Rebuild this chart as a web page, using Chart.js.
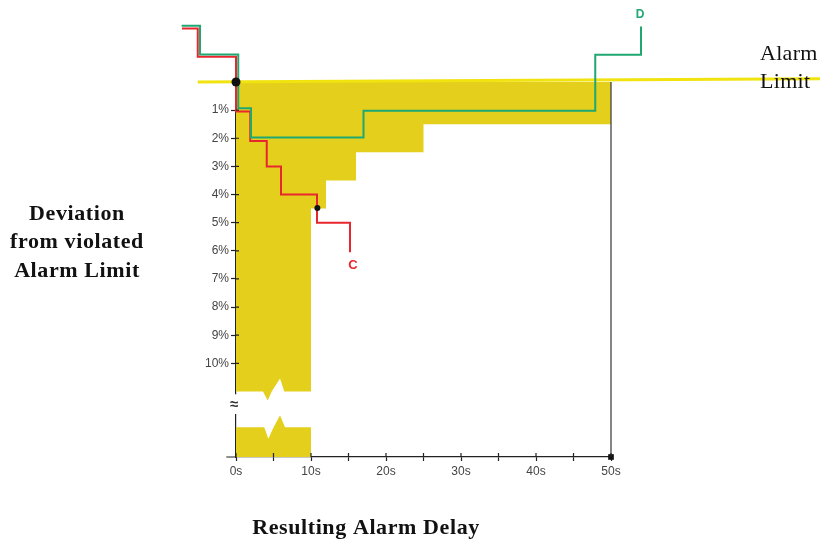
<!DOCTYPE html>
<html><head><meta charset="utf-8">
<script src="https://cdn.jsdelivr.net/npm/chart.js@4/dist/chart.umd.min.js"></script>
<style>html,body{margin:0;padding:0;background:#fff}#wrap{width:820px;height:541px;position:relative}</style>
</head><body><div id="wrap"><canvas id="c" width="820" height="541"></canvas></div>
<script>
// ---- data ----
const xTickValues = [0, 5, 10, 15, 20, 25, 30, 35, 40, 45, 50];
const xTickLabels = ['0s', '', '10s', '', '20s', '', '30s', '', '40s', '', '50s'];
const yTickValues = [1, 2, 3, 4, 5, 6, 7, 8, 9, 10];
const yTickLabels = ['1%', '2%', '3%', '4%', '5%', '6%', '7%', '8%', '9%', '10%'];

// series C (red): seconds / % deviation, step points
const seriesC_x = [-7.2, -5.1, 0, 1.9, 4.1, 6.0, 10.8, 15.2];
const seriesC_y = [-1.9, -0.9, 1.05, 2.1, 3.0, 4.0, 5.0, 6.05];
// series D (green)
const seriesD_x = [-7.25, -4.8, 0.3, 2.0, 17.0, 47.9, 54.0];
const seriesD_y = [-2.0, -0.98, 0.93, 1.97, 1.02, -0.97, -1.97];
// alarm-delay zone (upper part, above the axis break)
const zoneX = [0, 50, 50, 25, 25, 16, 16, 12, 12, 10, 10, 6.44, 5.87, 4.76, 4.23, 3.6, 0];
const zoneY = [0, 0, 1.5, 1.5, 2.5, 2.5, 3.5, 3.5, 4.5, 4.5, 11.0, 11.0, 10.54, 11.0, 11.32, 11.0, 11.0];
// alarm-delay zone (lower part, below the axis break)
const zoneLowX = [0, 3.77, 4.31, 4.97, 5.87, 6.53, 10, 10, 0];
const zoneLowY = [12.27, 12.27, 12.68, 12.3, 11.85, 12.27, 12.27, 13.33, 13.33];
// alarm limit line
const limitX = [-5.1, 78];
const limitY = [0, -0.12];
// max delay line
const maxDelayX = [50, 50];
const maxDelayY = [0, 13.33];
// markers
const markerX = [0, 10.85, 50];
const markerY = [0, 4.48, 13.33];

const X_MIN = 0, X_MAX = 50, Y_MIN = 0, Y_MAX = 13.33;

const pts = (xs, ys) => xs.map((x, i) => ({x: x, y: ys[i]}));

const overlay = {
  id: 'overlay',
  afterDraw(chart) {
    const ctx = chart.ctx;
    const xs = chart.scales.x, ys = chart.scales.y;
    const x0 = xs.getPixelForValue(0);
    const yb = ys.getPixelForValue(Y_MAX);
    ctx.save();
    ctx.strokeStyle = '#222';
    ctx.lineWidth = 1.2;
    // crossing tick marks
    ctx.beginPath();
    yTickValues.forEach(v => { const p = ys.getPixelForValue(v); ctx.moveTo(x0, p); ctx.lineTo(x0 + 3, p); });
    xTickValues.forEach(v => { const p = xs.getPixelForValue(v); ctx.moveTo(p, yb); ctx.lineTo(p, yb - 4); });
    // x axis extension left of 0s
    ctx.moveTo(xs.getPixelForValue(-1.3), yb); ctx.lineTo(x0, yb);
    ctx.stroke();
    // axis break
    const g1 = ys.getPixelForValue(11.1), g2 = ys.getPixelForValue(11.8);
    ctx.fillStyle = '#fff';
    ctx.fillRect(x0 - 3, g1, 6, g2 - g1);
    ctx.fillStyle = '#333';
    ctx.font = 'bold 15px "Liberation Sans"';
    ctx.textAlign = 'center'; ctx.textBaseline = 'middle';
    ctx.fillText('\u2248', x0 - 2, (g1 + g2) / 2 + 1);
    // series labels
    const cEnd = {x: xs.getPixelForValue(seriesC_x[seriesC_x.length - 1]), y: ys.getPixelForValue(seriesC_y[seriesC_y.length - 1])};
    const dEnd = {x: xs.getPixelForValue(seriesD_x[seriesD_x.length - 1]), y: ys.getPixelForValue(seriesD_y[seriesD_y.length - 1])};
    ctx.font = 'bold 13px "Liberation Sans"';
    ctx.fillStyle = '#E8262E';
    ctx.fillText('C', cEnd.x + 3, cEnd.y + 13);
    ctx.font = 'bold 12px "Liberation Sans"';
    ctx.fillStyle = '#1FA872';
    ctx.fillText('D', dEnd.x - 1, dEnd.y - 12);
    // titles
    ctx.fillStyle = '#111';
    ctx.textBaseline = 'alphabetic';
    try { ctx.letterSpacing = '0.6px'; } catch (e) {}
    ctx.font = 'bold 22px "Liberation Serif"';
    ctx.textAlign = 'center';
    ctx.fillText('Deviation', 77, 220);
    ctx.fillText('from violated', 77, 248);
    ctx.fillText('Alarm Limit', 77, 277);
    ctx.fillText('Resulting Alarm Delay', 366, 534);
    try { ctx.letterSpacing = '0.3px'; } catch (e) {}
    ctx.font = '22px "Liberation Serif"';
    ctx.textAlign = 'left';
    ctx.fillText('Alarm', 760, 60);
    ctx.fillText('Limit', 760, 88);
    ctx.restore();
  }
};

new Chart(document.getElementById('c'), {
  type: 'line',
  data: {
    datasets: [
      {data: pts(markerX, markerY), showLine: false, pointRadius: [4.5, 3, 4], pointStyle: ['circle', 'circle', 'rect'],
       pointBackgroundColor: '#111', pointBorderColor: '#111', pointBorderWidth: 0, clip: false, order: 0},
      {data: pts(seriesD_x, seriesD_y), stepped: true, borderColor: '#1FA872', borderWidth: 2, pointRadius: 0, fill: false, clip: false, order: 1},
      {data: pts(seriesC_x, seriesC_y), stepped: true, borderColor: '#E8262E', borderWidth: 2, pointRadius: 0, fill: false, clip: false, order: 2},
      {data: pts(maxDelayX, maxDelayY), borderColor: '#444', borderWidth: 1.3, pointRadius: 0, fill: false, clip: false, order: 3},
      {data: pts(limitX, limitY), borderColor: '#F0E310', borderWidth: 3, pointRadius: 0, fill: false, clip: false, order: 4},
      {data: pts(zoneX, zoneY), borderWidth: 0, borderColor: 'rgba(0,0,0,0)', backgroundColor: '#E4CF1C', pointRadius: 0, fill: 'shape', tension: 0, clip: false, order: 5},
      {data: pts(zoneLowX, zoneLowY), borderWidth: 0, borderColor: 'rgba(0,0,0,0)', backgroundColor: '#E4CF1C', pointRadius: 0, fill: 'shape', tension: 0, clip: false, order: 6}
    ]
  },
  options: {
    responsive: false,
    animation: false,
    events: [],
    layout: {padding: {top: 82, right: 209, bottom: 54, left: 0}},
    plugins: {legend: {display: false}, tooltip: {enabled: false}},
    scales: {
      x: {
        type: 'linear', bounds: 'data',
        afterDataLimits(s) { s.min = X_MIN; s.max = X_MAX; },
        afterBuildTicks(s) { s.ticks = xTickValues.map(v => ({value: v})); },
        afterFit(s) { s.height = 30; },
        ticks: {callback: (v, i) => xTickLabels[i], autoSkip: false, maxRotation: 0, padding: 3,
                color: '#444', font: {family: 'Liberation Sans', size: 12}},
        grid: {drawOnChartArea: false, tickLength: 4, color: '#222', tickWidth: 1.2},
        border: {color: '#222', width: 1.2}
      },
      y: {
        type: 'linear', reverse: true, bounds: 'data',
        afterDataLimits(s) { s.min = Y_MIN; s.max = Y_MAX; },
        afterBuildTicks(s) { s.ticks = yTickValues.map(v => ({value: v})); },
        afterFit(s) { s.width = 236; },
        ticks: {callback: (v, i) => yTickLabels[i], autoSkip: false, padding: 2,
                color: '#444', font: {family: 'Liberation Sans', size: 12}},
        grid: {drawOnChartArea: false, tickLength: 5, color: '#222', tickWidth: 1.2},
        border: {color: '#222', width: 1.2}
      }
    }
  },
  plugins: [overlay]
});
</script></body></html>
